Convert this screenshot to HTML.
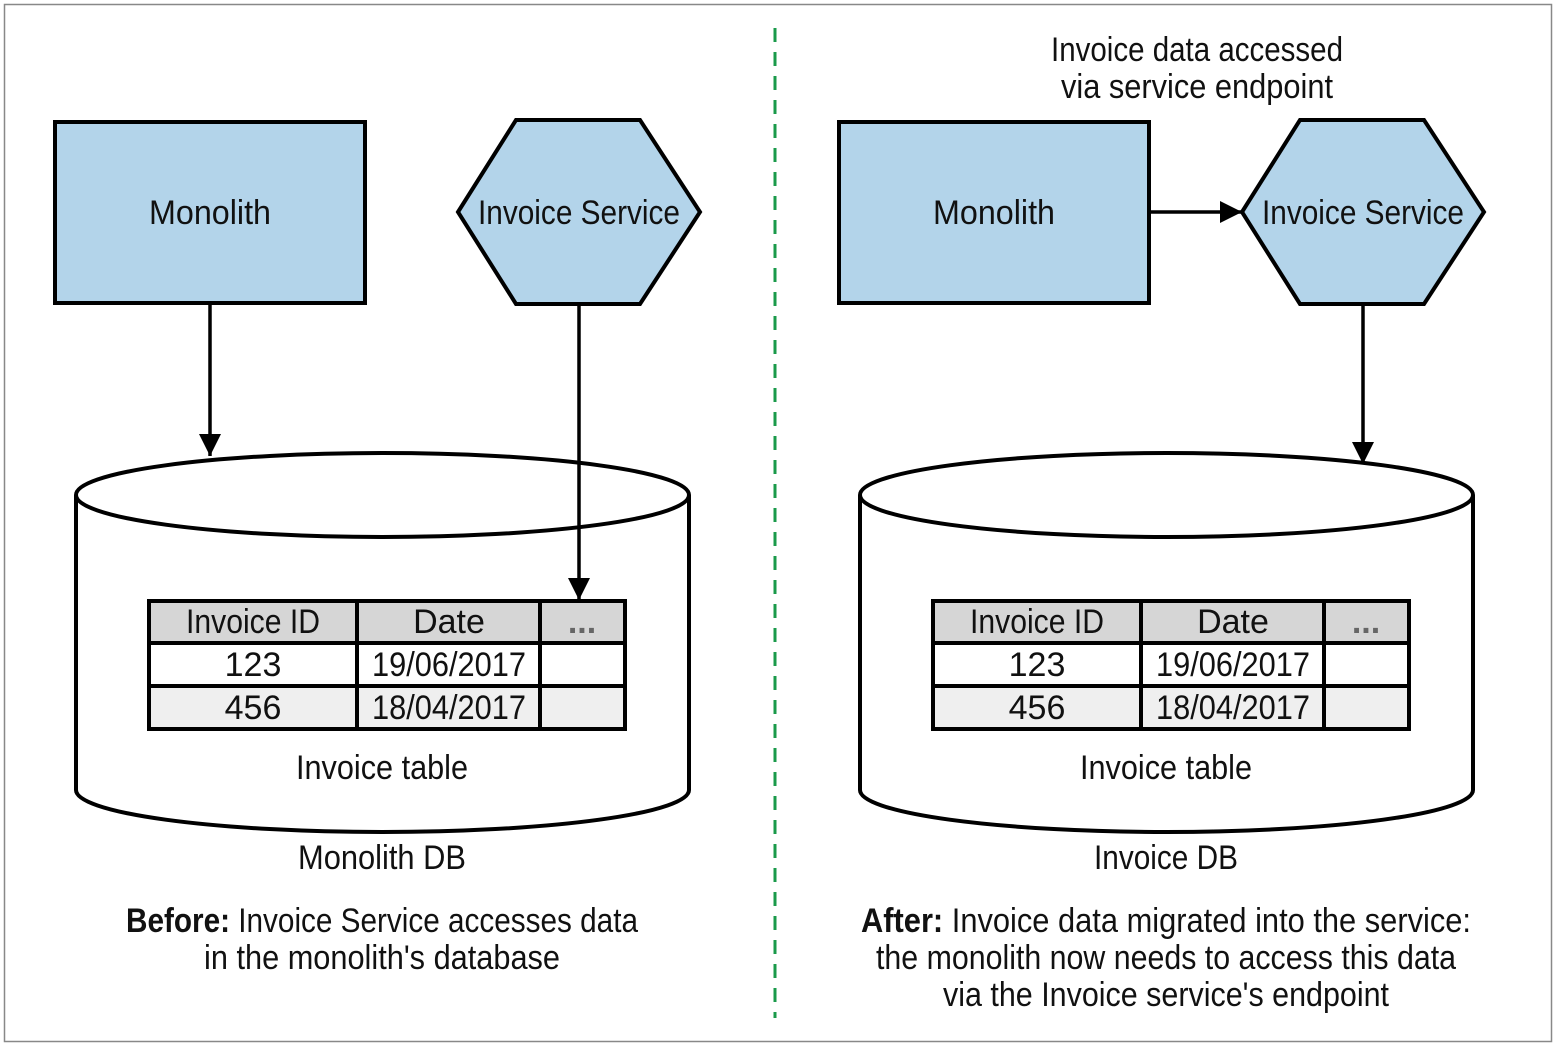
<!DOCTYPE html>
<html><head><style>html,body{margin:0;padding:0;background:#fff}svg{display:block}
text{font-family:"Liberation Sans Narrow","Liberation Sans",sans-serif;font-size:34px;fill:#111}</style></head>
<body>
<svg width="1556" height="1046" viewBox="0 0 1556 1046" xmlns="http://www.w3.org/2000/svg">
<defs>
<marker id="b" markerWidth="22" markerHeight="22" refX="22" refY="11" orient="auto" markerUnits="userSpaceOnUse" viewBox="0 0 22 22"><path d="M0,0 L22,11 L0,22 z" fill="#000"/></marker></defs>
<rect x="4.5" y="4.5" width="1547" height="1037" fill="#fff" stroke="#888" stroke-width="1.5"/>
<line x1="775" y1="28" x2="775" y2="1018" stroke="#1a9a4a" stroke-width="3" stroke-dasharray="14,10"/>

<g id="L">
<rect x="55" y="122" width="310" height="181" fill="#b3d4ea" stroke="#000" stroke-width="4"/>
<text x="210" y="224" text-anchor="middle" textLength="122" lengthAdjust="spacingAndGlyphs">Monolith</text>
<polygon points="458,212 516,120 640,120 700,212 640,304 516,304" fill="#b3d4ea" stroke="#000" stroke-width="4"/>
<text x="579" y="224" text-anchor="middle" textLength="202" lengthAdjust="spacingAndGlyphs">Invoice Service</text>
<path d="M76,495 L76,790 A306.5,42 0 0 0 689,790 L689,495" fill="#fff" stroke="#000" stroke-width="4"/>
<ellipse cx="382.5" cy="495" rx="306.5" ry="42" fill="#fff" stroke="#000" stroke-width="4"/>
<rect x="149" y="601" width="476" height="42" fill="#d6d6d6"/>
<rect x="149" y="686" width="476" height="43" fill="#efefef"/>
<g stroke="#000" stroke-width="4" fill="none">
<rect x="149" y="601" width="476" height="128"/>
<line x1="149" y1="643" x2="625" y2="643"/><line x1="149" y1="686" x2="625" y2="686"/>
<line x1="357" y1="601" x2="357" y2="729"/><line x1="540" y1="601" x2="540" y2="729"/>
</g>
<text x="253" y="633" text-anchor="middle" textLength="134" lengthAdjust="spacingAndGlyphs">Invoice ID</text>
<text x="449" y="633" text-anchor="middle">Date</text>
<text x="582" y="633" text-anchor="middle" style="fill:#666;font-weight:bold">...</text>
<text x="253" y="676" text-anchor="middle">123</text>
<text x="449" y="676" text-anchor="middle" textLength="154" lengthAdjust="spacingAndGlyphs">19/06/2017</text>
<text x="253" y="719" text-anchor="middle">456</text>
<text x="449" y="719" text-anchor="middle" textLength="154" lengthAdjust="spacingAndGlyphs">18/04/2017</text>
<text x="382" y="779" text-anchor="middle" textLength="172" lengthAdjust="spacingAndGlyphs">Invoice table</text>
</g>
<text x="382" y="869" text-anchor="middle" textLength="168" lengthAdjust="spacingAndGlyphs">Monolith DB</text>
<line x1="210" y1="304" x2="210" y2="456" stroke="#000" stroke-width="3.5" marker-end="url(#b)"/>
<line x1="579" y1="304" x2="579" y2="600" stroke="#000" stroke-width="3.5" marker-end="url(#b)"/>
<text x="382" y="932" text-anchor="middle" textLength="512" lengthAdjust="spacingAndGlyphs"><tspan font-weight="bold">Before:</tspan> Invoice Service accesses data</text>
<text x="382" y="969" text-anchor="middle" textLength="356" lengthAdjust="spacingAndGlyphs">in the monolith's database</text>

<use href="#L" x="784"/>
<text x="1166" y="869" text-anchor="middle" textLength="144" lengthAdjust="spacingAndGlyphs">Invoice DB</text>
<line x1="1150" y1="212" x2="1242" y2="212" stroke="#000" stroke-width="3.5" marker-end="url(#b)"/>
<line x1="1363" y1="305" x2="1363" y2="464" stroke="#000" stroke-width="3.5" marker-end="url(#b)"/>
<text x="1197" y="61" text-anchor="middle" textLength="292" lengthAdjust="spacingAndGlyphs">Invoice data accessed</text>
<text x="1197" y="98" text-anchor="middle" textLength="272" lengthAdjust="spacingAndGlyphs">via service endpoint</text>
<text x="1166" y="932" text-anchor="middle" textLength="610" lengthAdjust="spacingAndGlyphs"><tspan font-weight="bold">After:</tspan> Invoice data migrated into the service:</text>
<text x="1166" y="969" text-anchor="middle" textLength="580" lengthAdjust="spacingAndGlyphs">the monolith now needs to access this data</text>
<text x="1166" y="1006" text-anchor="middle" textLength="446" lengthAdjust="spacingAndGlyphs">via the Invoice service's endpoint</text>
</svg>
</body></html>
